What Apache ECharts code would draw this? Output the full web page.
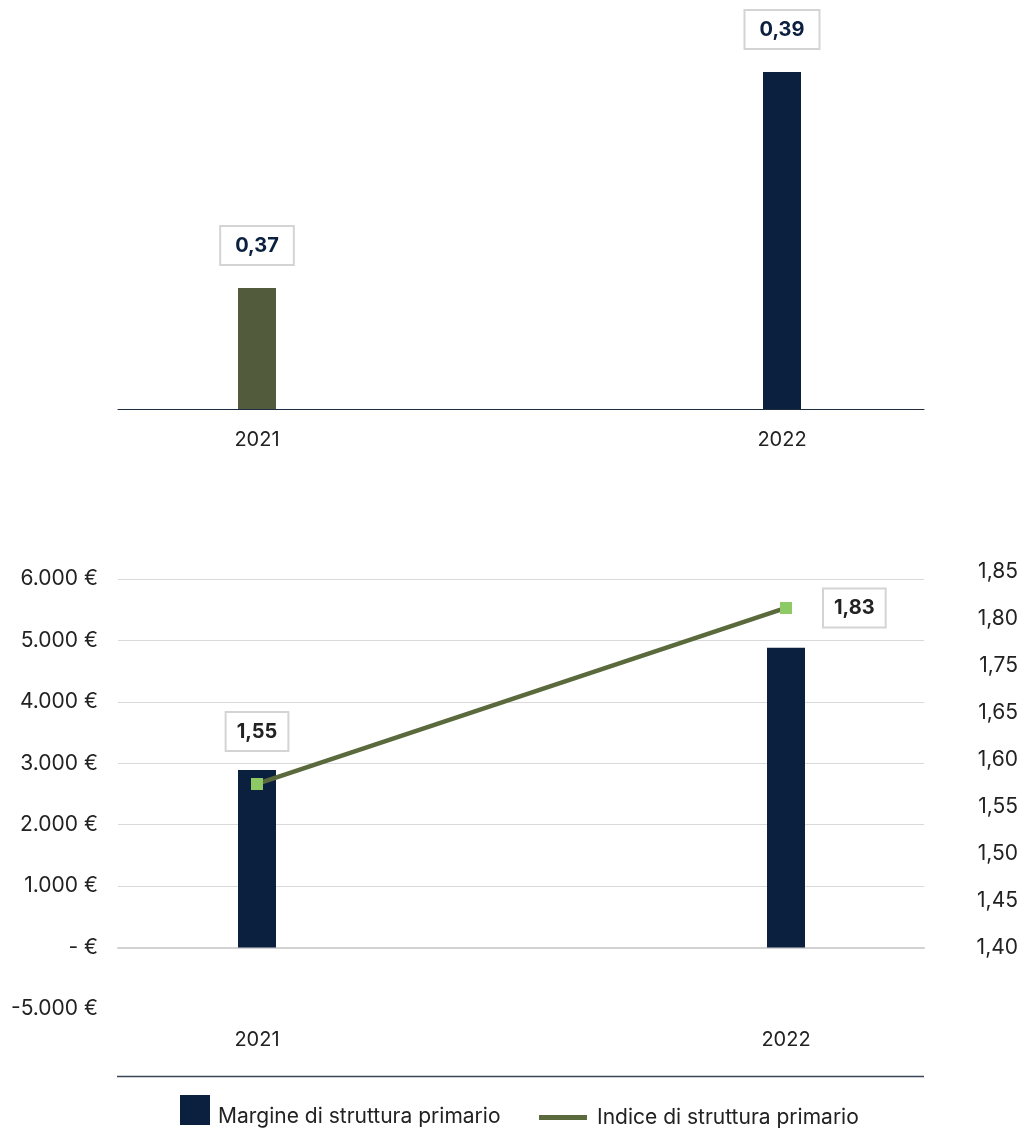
<!DOCTYPE html>
<html>
<head>
<meta charset="utf-8">
<script src="https://cdn.jsdelivr.net/npm/echarts@6/dist/echarts.min.js"></script>
<style>
  html, body { margin: 0; padding: 0; background: #ffffff; }
  #chart { width: 1025px; height: 1140px; }
</style>
</head>
<body>
<div id="chart"></div>
<script>
// Categories (years)
const categories = ['2021', '2022'];

// Upper panel: ratio per year
const topValues = [0.37, 0.39];

// Lower panel: structural margin (bars, €) and structural index (line)
const margineStruttura = [2890, 4880];
const indiceStruttura = [1.55, 1.83];

// Tick labels of the lower panel
const leftTickValues = [-1000, 0, 1000, 2000, 3000, 4000, 5000, 6000];
const leftTickLabels = ['-5.000 €', '- €', '1.000 €', '2.000 €', '3.000 €', '4.000 €', '5.000 €', '6.000 €'];
const rightTickLabels = ['1,40', '1,45', '1,50', '1,55', '1,60', '1,65', '1,75', '1,80', '1,85'];

const FONT = 'Inter, "Noto Sans", sans-serif';
const NAVY = '#0b1f3f';
const OLIVE = '#535b3d';
const LINE_OLIVE = '#5a6a3c';
const MARKER_GREEN = '#8dc965';
const TEXT = '#222222';

// Legend swatch: square sitting at the top of a taller box, so the
// legend text lines up with the lower part of the square
const SWATCH_ICON = 'path://M0,0H30V30H0Z M0,44L0.01,44Z';

const fmt2 = v => v.toFixed(2).replace('.', ',');

const boxLabel = (color, padX) => ({
  show: true,
  fontFamily: FONT,
  fontSize: 20,
  fontWeight: 'bold',
  color: color,
  backgroundColor: '#ffffff',
  borderColor: '#d4d4d4',
  borderWidth: 2,
  padding: [9, padX, 8, padX]
});

const chart = echarts.init(document.getElementById('chart'), null, { renderer: 'canvas' });

const topBarColors = [OLIVE, NAVY];
const lineLabelPlacement = [
  { position: 'top', distance: 28 },
  { position: 'right', distance: 32 }
];

const option = {
  backgroundColor: '#ffffff',
  animation: false,
  grid: [
    // 0: upper panel, full width (baseline)
    { left: 118, right: 101, top: 72, height: 337 },
    // 1: upper panel, data
    { left: 257, width: 525, top: 72, height: 337 },
    // 2: lower panel, full width (grid lines, left labels)
    { left: 118, right: 101, top: 579, height: 430 },
    // 3: lower panel, data
    { left: 257, width: 529, top: 579, height: 430 },
    // 4: lower panel, right-hand labels
    { left: 118, right: 101, top: 572, height: 376 }
  ],
  xAxis: [
    {
      gridIndex: 0, type: 'category', data: categories,
      axisLine: { show: true, lineStyle: { color: '#1f2d40', width: 1 } },
      axisTick: { show: false }, axisLabel: { show: false }
    },
    {
      gridIndex: 1, type: 'category', data: categories, boundaryGap: false,
      axisLine: { show: false }, axisTick: { show: false },
      axisLabel: { fontFamily: FONT, fontSize: 20, color: TEXT, margin: 21 }
    },
    {
      gridIndex: 2, type: 'category', data: categories,
      axisLine: { show: true, onZero: true, lineStyle: { color: '#d2d2d2', width: 2 } },
      axisTick: { show: false }, axisLabel: { show: false }
    },
    {
      gridIndex: 3, type: 'category', data: categories, boundaryGap: false,
      axisLine: { show: false }, axisTick: { show: false },
      axisLabel: { fontFamily: FONT, fontSize: 20, color: TEXT, margin: 21 }
    },
    {
      gridIndex: 4, type: 'category', data: categories, show: false
    }
  ],
  yAxis: [
    { gridIndex: 0, type: 'value', show: false, min: 0.3588, max: 0.39 },
    { gridIndex: 1, type: 'value', show: false, min: 0.3588, max: 0.39 },
    {
      gridIndex: 2, type: 'value', min: -1000, max: 6000, interval: 1000,
      axisLine: { show: false }, axisTick: { show: false },
      splitLine: { show: true, showMinLine: false, lineStyle: { color: '#d9d9d9', width: 1 } },
      axisLabel: {
        fontFamily: FONT, fontSize: 21, color: TEXT, margin: 20,
        formatter: v => leftTickLabels[leftTickValues.indexOf(v)] || ''
      }
    },
    { gridIndex: 3, type: 'value', show: false, min: -1000, max: 6000 },
    { gridIndex: 3, type: 'value', show: false, min: 1.192, max: 1.8761 },
    {
      gridIndex: 4, type: 'value', position: 'right', min: 0, max: 8, interval: 1,
      axisLine: { show: false }, axisTick: { show: false }, splitLine: { show: false },
      axisLabel: {
        fontFamily: FONT, fontSize: 21, color: TEXT, align: 'right', margin: 94,
        formatter: v => rightTickLabels[v] || ''
      }
    }
  ],
  legend: [
    {
      data: [{ name: 'Margine di struttura primario', icon: SWATCH_ICON }],
      left: 180, top: 1095, padding: 0, itemWidth: 30, itemHeight: 44, itemGap: 0,
      textStyle: { fontFamily: FONT, fontSize: 21, color: TEXT, padding: [0, 0, 0, 3] }
    },
    {
      data: [{ name: 'Indice di struttura primario', icon: 'rect', itemStyle: { color: LINE_OLIVE } }],
      left: 539, top: 1107, padding: 0, itemWidth: 48, itemHeight: 5, itemGap: 0,
      textStyle: { fontFamily: FONT, fontSize: 21, color: TEXT, padding: [0, 0, 0, 5] }
    }
  ],
  graphic: [
    {
      type: 'line', silent: true,
      shape: { x1: 117, y1: 1076.5, x2: 924, y2: 1076.5 },
      style: { stroke: '#3a4658', lineWidth: 1.5 }
    }
  ],
  series: [
    {
      name: 'Valore',
      type: 'bar', xAxisIndex: 1, yAxisIndex: 1, barWidth: 38,
      data: topValues.map((v, i) => ({ value: v, itemStyle: { color: topBarColors[i] } })),
      label: Object.assign(boxLabel(NAVY, 14), { position: 'top', distance: 24, formatter: p => fmt2(p.value) })
    },
    {
      name: 'Margine di struttura primario',
      type: 'bar', xAxisIndex: 3, yAxisIndex: 3, barWidth: 38,
      itemStyle: { color: NAVY },
      data: margineStruttura
    },
    {
      name: 'Indice di struttura primario',
      type: 'line', xAxisIndex: 3, yAxisIndex: 4,
      symbol: 'rect', symbolSize: 12,
      lineStyle: { color: LINE_OLIVE, width: 4.5 },
      itemStyle: { color: MARKER_GREEN },
      data: indiceStruttura.map((v, i) => ({
        value: v,
        label: Object.assign(boxLabel(TEXT, 10), lineLabelPlacement[i], { formatter: p => fmt2(p.value) })
      })),
      z: 5
    }
  ]
};

chart.setOption(option);
</script>
</body>
</html>
